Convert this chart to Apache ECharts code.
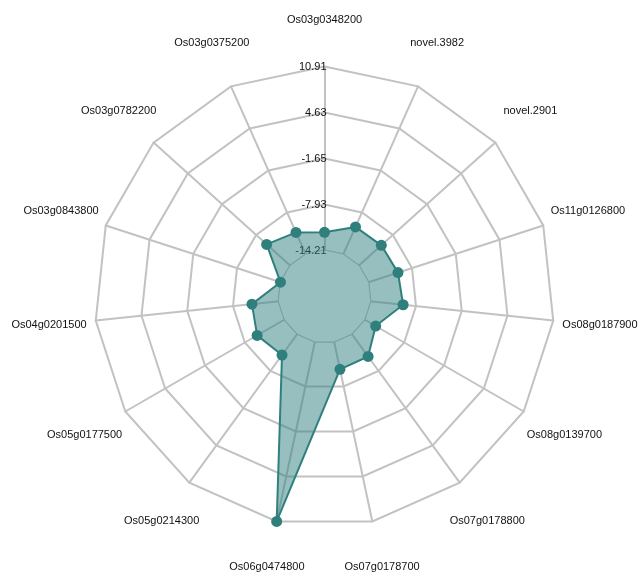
<!DOCTYPE html>
<html>
<head>
<meta charset="utf-8">
<script src="https://cdn.jsdelivr.net/npm/echarts@6/dist/echarts.min.js"></script>
<style>html,body{margin:0;padding:0;background:#fff;}#c{width:638px;height:572px;}</style>
</head>
<body>
<div id="c"></div>
<script>
// Indicators in ECharts order (counter-clockwise from top)
var genes = ['Os03g0348200','Os03g0375200','Os03g0782200','Os03g0843800','Os04g0201500',
  'Os05g0177500','Os05g0214300','Os06g0474800','Os07g0178700','Os07g0178800',
  'Os08g0139700','Os08g0187900','Os11g0126800','novel.2901','novel.3982'];
var values = [-11.73,-10.91,-9.86,-14.17,-10.53,-9.87,-10.62,10.91,-10.33,-10.37,-12.42,-9.70,-9.94,-10.05,-10.09];
var axisMin = -20.49;
var axisMax = 10.91;
var innerLevel = -14.21;
var tickLabels = ['', '-14.21', '-7.93', '-1.65', '4.63', '10.91'];

var chart = echarts.init(document.getElementById('c'), null, {renderer: 'canvas'});
var FONT = 'Liberation Sans';
var gridColor = '#c2c2c2';

var indicatorGrid = genes.map(function (g) { return {name: g, min: axisMin, max: axisMax}; });
var indicatorLabels = genes.map(function (g, i) {
  var o = {name: g, min: axisMin, max: axisMax};
  if (i === 0) {
    o.axisLabel = {
      show: true,
      margin: -2,
      color: '#111',
      fontSize: 11,
      fontFamily: FONT,
      formatter: function (v, idx) { return tickLabels[idx] || ''; }
    };
  }
  return o;
});
var innerRing = genes.map(function () { return innerLevel; });

var common = {
  center: [324.5, 296.5],
  radius: 230,
  startAngle: 90,
  shape: 'polygon',
  splitNumber: 5
};

chart.setOption({
  animation: false,
  backgroundColor: '#fff',
  radar: [
    Object.assign({}, common, {
      z: 0,
      indicator: indicatorGrid,
      nameGap: 47,
      axisName: {
        color: '#111',
        fontSize: 11,
        fontFamily: FONT,
        align: 'center',
        verticalAlign: 'middle'
      },
      axisLine: {lineStyle: {color: gridColor, width: 2}},
      splitLine: {lineStyle: {color: gridColor, width: 2}},
      splitArea: {show: false},
      axisTick: {show: false},
      axisLabel: {show: false}
    }),
    Object.assign({}, common, {
      z: 2,
      indicator: indicatorLabels,
      axisName: {show: false},
      axisLine: {show: false},
      splitLine: {show: false},
      splitArea: {show: false},
      axisTick: {show: false},
      axisLabel: {show: false}
    })
  ],
  series: [{
    type: 'radar',
    radarIndex: 0,
    z: 1,
    silent: true,
    symbol: 'none',
    data: [{
      value: innerRing,
      lineStyle: {color: gridColor, width: 2},
      areaStyle: {color: '#ffffff', opacity: 1}
    }]
  }, {
    type: 'radar',
    radarIndex: 0,
    symbol: 'circle',
    symbolSize: 11,
    z: 3,
    data: [{
      value: values,
      lineStyle: {color: '#2f807e', width: 2},
      itemStyle: {color: '#2f7f7d'},
      areaStyle: {color: 'rgba(47,128,128,0.5)', opacity: 1}
    }]
  }]
});
</script>
</body>
</html>
